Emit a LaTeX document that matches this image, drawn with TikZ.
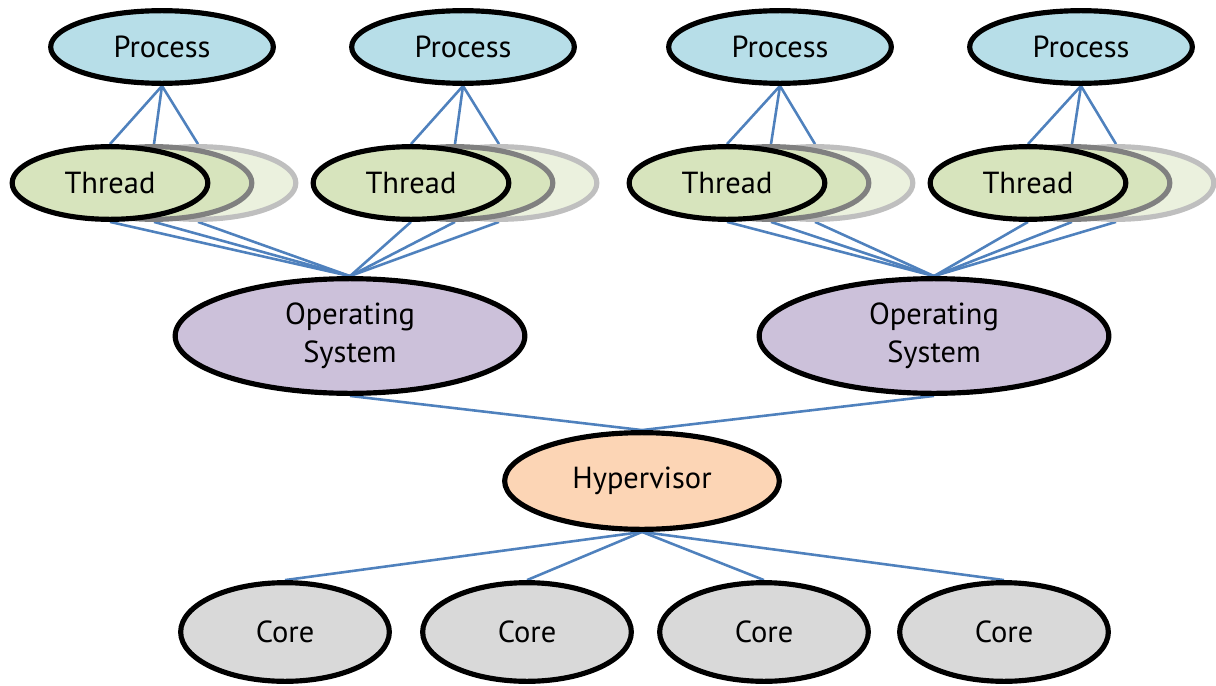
\documentclass[tikz,border=0pt]{standalone}
\usepackage{fontspec}
\setmainfont{PT Sans}
\usetikzlibrary{shapes.geometric,backgrounds}

\definecolor{procblue}{HTML}{B7DEE8}
\definecolor{threadgreen}{HTML}{D7E4BD}
\definecolor{threadpale}{HTML}{EBF1DE}
\definecolor{osviolet}{HTML}{CCC1DA}
\definecolor{hypsand}{HTML}{FCD5B5}
\definecolor{coregray}{HTML}{D9D9D9}
\definecolor{linkblue}{HTML}{4F81BD}

\begin{document}
\begin{tikzpicture}[
  blob/.style={ellipse,draw=black,line width=4.4pt,inner sep=0pt,align=center,
    font=\fontsize{26}{32}\selectfont},
  proc/.style={blob,fill=procblue,minimum width=6.68cm,minimum height=2.18cm},
  thr/.style={blob,fill=threadgreen,minimum width=5.87cm,minimum height=2.18cm},
  thrmid/.style={thr,draw=black!50},
  thrback/.style={thr,draw=black!25,fill=threadpale},
  os/.style={blob,fill=osviolet,minimum width=10.49cm,minimum height=3.44cm},
  hyp/.style={blob,fill=hypsand,minimum width=8.24cm,minimum height=2.90cm},
  core/.style={blob,fill=coregray,minimum width=6.26cm,minimum height=2.96cm},
  link/.style={linkblue,line width=2.2pt}]
 \useasboundingbox (0,0) rectangle (36.48,-20.58);

 % processes, each with a stack of three threads
 \foreach \g/\x/\px in {1/3.30/4.86,2/12.33/13.89,3/21.81/23.40,4/30.84/32.43} {
  \node[thrback] (t\g c) at (\x+2.64,-5.49) {};
  \node[thrmid] (t\g b) at (\x+1.32,-5.49) {};
  \node[thr] (t\g a) at (\x,-5.49) {Thread};
  \node[proc] (p\g) at (\px,-1.41) {Process};
 }

 \node[os] (os1) at (10.50,-10.08) {Operating\\System};
 \node[os] (os2) at (28.02,-10.08) {Operating\\System};
 \node[hyp] (hyp) at (19.26,-14.43) {Hypervisor};

 \node[core] (c1) at (8.55,-18.96) {Core};
 \node[core] (c2) at (15.81,-18.96) {Core};
 \node[core] (c3) at (22.92,-18.96) {Core};
 \node[core] (c4) at (30.12,-18.96) {Core};

 % connectors go behind the ellipses
 \begin{pgfonlayer}{background}
  \foreach \g/\o in {1/1,2/1,3/2,4/2}
   \foreach \s in {a,b,c} {
    \draw[link] (p\g.south) -- (t\g\s.north);
    \draw[link] (t\g\s.south) -- (os\o.north);
   }
  \draw[link] (os1.south) -- (hyp.north);
  \draw[link] (os2.south) -- (hyp.north);
  \foreach \c in {1,...,4}
   \draw[link] (hyp.south) -- (c\c.north);
 \end{pgfonlayer}
\end{tikzpicture}
\end{document}
